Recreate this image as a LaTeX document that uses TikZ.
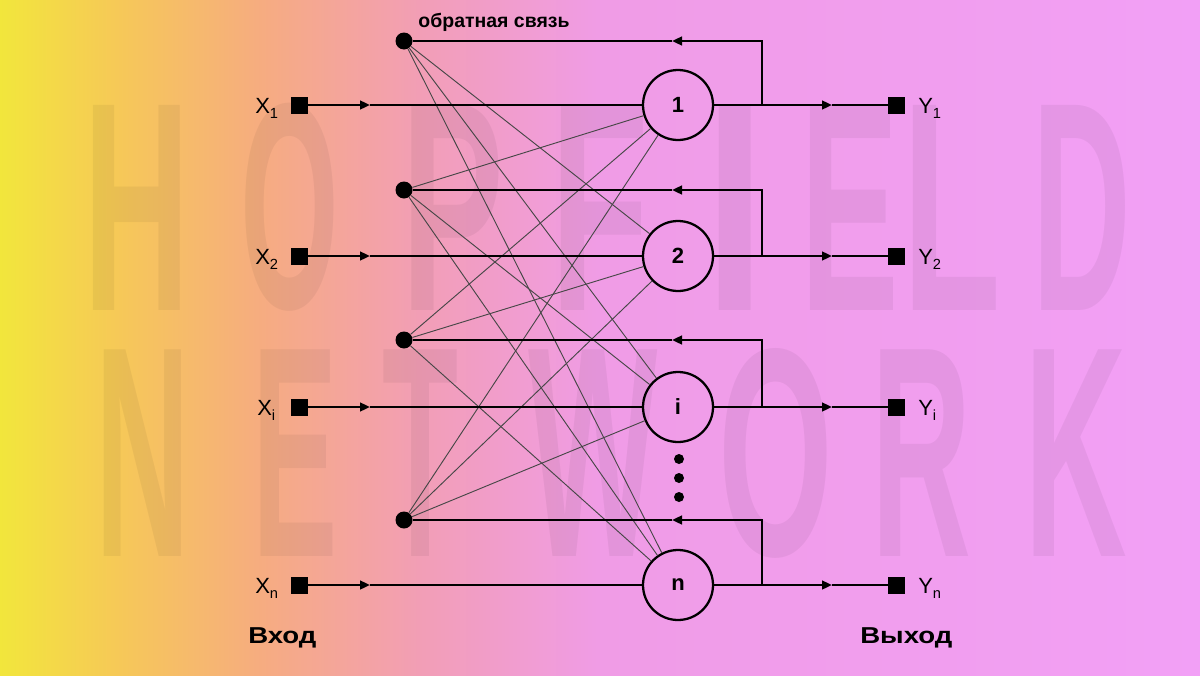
\documentclass[tikz,border=0pt]{standalone}
\usepackage{fontspec}
\setmainfont{Liberation Sans}
\usetikzlibrary{arrows.meta}
\definecolor{bgA}{RGB}{242,230,60}
\definecolor{bgB}{RGB}{246,200,88}
\definecolor{bgC}{RGB}{246,172,128}
\definecolor{bgD}{RGB}{242,158,182}
\definecolor{bgE}{RGB}{240,156,230}
\definecolor{bgF}{RGB}{242,160,246}
\begin{document}
\begin{tikzpicture}[x=0.75pt,y=-0.75pt,
  neuron/.style={circle, draw, line width=1.7pt, minimum size=52.5pt, inner sep=0pt,
                 font=\fontsize{16.5}{18}\selectfont\bfseries},
  sq/.style={rectangle, fill=black, minimum size=12.75pt, inner sep=0pt},
  fbdot/.style={circle, fill=black, minimum size=12.75pt, inner sep=0pt},
  smalldot/.style={circle, fill=black, minimum size=7.5pt, inner sep=0pt},
  mainline/.style={line width=1.7pt},
  thinline/.style={line width=0.7pt, draw=black!72},
  tip/.style={-{Triangle[length=7.5pt,width=6.5pt]}},
  lbl/.style={inner sep=0pt, anchor=base west, font=\fontsize{16.5}{18}\selectfont},
  big/.style={inner sep=0pt, anchor=base west, font=\fontsize{17.25}{19}\selectfont\bfseries},
  wm/.style={inner sep=0pt, anchor=center, text=black, text opacity=0.05, font=\bfseries}
]
\useasboundingbox (0,0) rectangle (1200,675);
% background gradient
\shade[left color=bgA, right color=bgB] (0,0) rectangle (121,675);
\shade[left color=bgB, right color=bgC] (120,0) rectangle (261,675);
\shade[left color=bgC, right color=bgD] (260,0) rectangle (421,675);
\shade[left color=bgD, right color=bgE] (420,0) rectangle (601,675);
\shade[left color=bgE, right color=bgF] (600,0) rectangle (1200,675);

% watermark
\node[wm] (wH) at (137,207.5) {\resizebox{80pt}{153.75pt}{H}};
\node[wm] (wO) at (290,207.5) {\resizebox{74pt}{153.75pt}{O}};
\node[wm] (wP) at (453,207.5) {\resizebox{77pt}{153.75pt}{P}};
\node[wm] (wF) at (600,207.5) {\resizebox{74pt}{153.75pt}{F}};
\node[wm] (wI) at (735,207.5) {\resizebox{46pt}{153.75pt}{I}};
\node[wm] (wE) at (850,207.5) {\resizebox{74pt}{153.75pt}{E}};
\node[wm] (wL) at (952,207.5) {\resizebox{74pt}{153.75pt}{L}};
\node[wm] (wD) at (1082,207.5) {\resizebox{74pt}{153.75pt}{D}};
\node[wm] (wN) at (143,453.5) {\resizebox{71pt}{155pt}{N}};
\node[wm] (wE2) at (295,453.5) {\resizebox{64pt}{155pt}{E}};
\node[wm] (wT) at (421,453.5) {\resizebox{57pt}{155pt}{T}};
\node[wm] (wW) at (593,453.5) {\resizebox{97pt}{155pt}{W}};
\node[wm] (wO2) at (776,453.5) {\resizebox{86pt}{155pt}{O}};
\node[wm] (wR) at (922,453.5) {\resizebox{75pt}{155pt}{R}};
\node[wm] (wK) at (1076,453.5) {\resizebox{77pt}{155pt}{K}};

% neurons
\node[neuron] (n1) at (678,105) {1};
\node[neuron] (n2) at (678,256) {2};
\node[neuron] (n3) at (678,407) {i};
\node[neuron] (n4) at (678,585) {n};

% vertical dots
\node[smalldot] (v1) at (679,459) {};
\node[smalldot] (v2) at (679,478) {};
\node[smalldot] (v3) at (679,497) {};

% feedback dots
\node[fbdot] (d1) at (404,41) {};
\node[fbdot] (d2) at (404,190) {};
\node[fbdot] (d3) at (404,340) {};
\node[fbdot] (d4) at (404,520) {};

% input and output squares
\foreach \k/\yy in {1/105,2/256,3/407,4/585}{
  \node[sq] (x\k) at (299.5,\yy) {};
  \node[sq] (y\k) at (896.5,\yy) {};
  \coordinate (ai\k) at (370,\yy);
  \coordinate (j\k) at (762,\yy);
  \coordinate (ao\k) at (832,\yy);
}
\coordinate (t1) at (762,41);   \coordinate (af1) at (672,41);
\coordinate (t2) at (762,190);  \coordinate (af2) at (672,190);
\coordinate (t3) at (762,340);  \coordinate (af3) at (672,340);
\coordinate (t4) at (762,520);  \coordinate (af4) at (672,520);

% thin interconnections
\foreach \k in {1,2,3,4}{
  \foreach \m in {1,2,3,4}{
    \ifnum\k=\m\else
      \draw[thinline] (d\k) -- (n\m);
    \fi
  }
}

% main lines
\foreach \k in {1,2,3,4}{
  \draw[mainline,tip] (x\k) -- (ai\k);
  \draw[mainline] (ai\k) -- (n\k);
  \draw[mainline] (n\k) -- (j\k);
  \draw[mainline,tip] (j\k) -- (ao\k);
  \draw[mainline] (ao\k) -- (y\k);
  \draw[mainline,tip] (j\k) -- (t\k) -- (af\k);
  \draw[mainline] (af\k) -- (d\k);
}

% labels
\node[lbl] (lx1) at (255,113) {X\raisebox{-3.75pt}{\fontsize{11}{12}\selectfont 1}};
\node[lbl] (lx2) at (255,264) {X\raisebox{-3.75pt}{\fontsize{11}{12}\selectfont 2}};
\node[lbl] (lx3) at (257,415) {X\raisebox{-3.75pt}{\fontsize{11}{12}\selectfont i}};
\node[lbl] (lx4) at (255,593) {X\raisebox{-3.75pt}{\fontsize{11}{12}\selectfont n}};
\node[lbl] (ly1) at (918,113) {Y\raisebox{-3.75pt}{\fontsize{11}{12}\selectfont 1}};
\node[lbl] (ly2) at (918,264) {Y\raisebox{-3.75pt}{\fontsize{11}{12}\selectfont 2}};
\node[lbl] (ly3) at (918,415) {Y\raisebox{-3.75pt}{\fontsize{11}{12}\selectfont i}};
\node[lbl] (ly4) at (918,593) {Y\raisebox{-3.75pt}{\fontsize{11}{12}\selectfont n}};

\node[inner sep=0pt, anchor=base, font=\fontsize{14.6}{16}\selectfont\bfseries] (fb) at (494,27) {обратная связь};
\node[big] (inlab) at (248,643) {\scalebox{1.2}[1]{Вход}};
\node[big] (outlab) at (860,643) {\scalebox{1.2}[1]{Выход}};
\end{tikzpicture}
\end{document}
